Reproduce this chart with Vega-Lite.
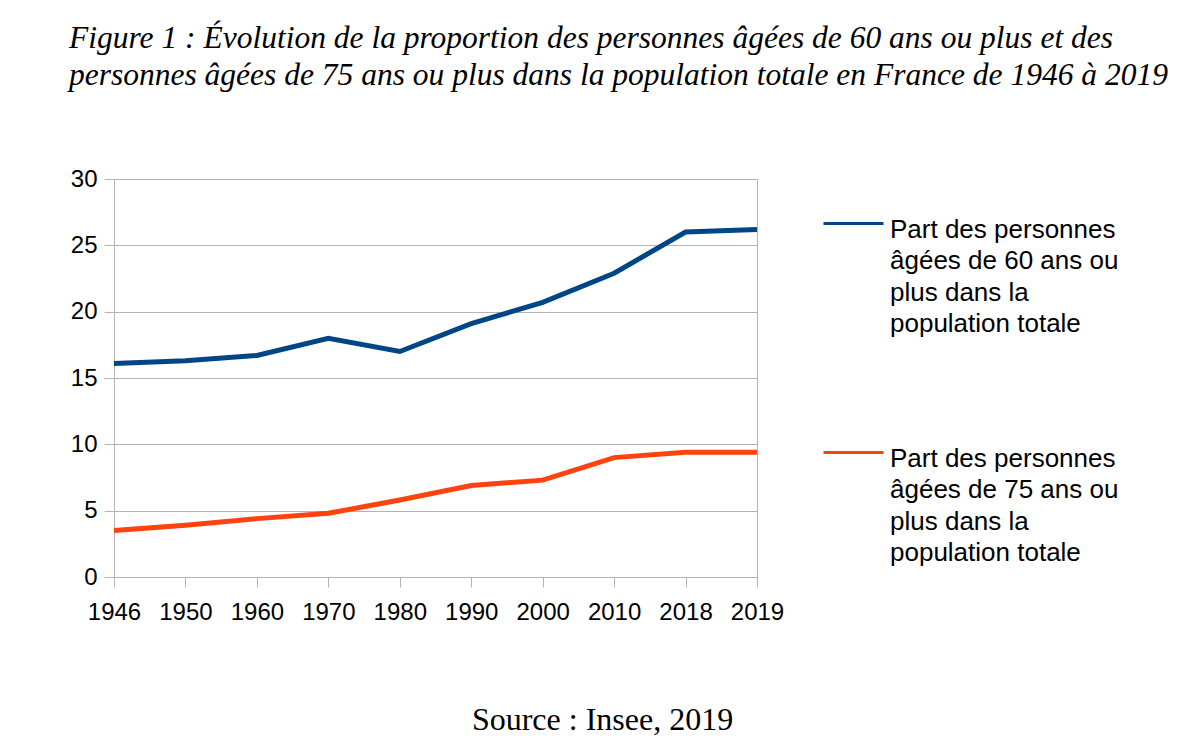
{
  "$schema": "https://vega.github.io/schema/vega-lite/v6.json",
  "width": 643,
  "height": 398,
  "autosize": {"type": "none"},
  "padding": {"left": 114, "top": 179, "right": 426, "bottom": 159},
  "background": "white",
  "title": {
    "text": ["Figure 1 : Évolution de la proportion des personnes âgées de 60 ans ou plus et des", "personnes âgées de 75 ans ou plus dans la population totale en France de 1946 à 2019"],
    "anchor": "start",
    "frame": "group",
    "dx": -45,
    "offset": 76,
    "font": "Liberation Serif",
    "fontStyle": "italic",
    "fontWeight": "normal",
    "fontSize": 31.5,
    "lineHeight": 37,
    "color": "black"
  },
  "data": {
    "values": [
      {"Année": "1946", "Série": "60", "Part": 16.1},
      {"Année": "1950", "Série": "60", "Part": 16.3},
      {"Année": "1960", "Série": "60", "Part": 16.7},
      {"Année": "1970", "Série": "60", "Part": 18.0},
      {"Année": "1980", "Série": "60", "Part": 17.0},
      {"Année": "1990", "Série": "60", "Part": 19.1},
      {"Année": "2000", "Série": "60", "Part": 20.7},
      {"Année": "2010", "Série": "60", "Part": 22.9},
      {"Année": "2018", "Série": "60", "Part": 26.0},
      {"Année": "2019", "Série": "60", "Part": 26.2},
      {"Année": "1946", "Série": "75", "Part": 3.5},
      {"Année": "1950", "Série": "75", "Part": 3.9},
      {"Année": "1960", "Série": "75", "Part": 4.4},
      {"Année": "1970", "Série": "75", "Part": 4.8},
      {"Année": "1980", "Série": "75", "Part": 5.8},
      {"Année": "1990", "Série": "75", "Part": 6.9},
      {"Année": "2000", "Série": "75", "Part": 7.3},
      {"Année": "2010", "Série": "75", "Part": 9.0},
      {"Année": "2018", "Série": "75", "Part": 9.4},
      {"Année": "2019", "Série": "75", "Part": 9.4}
    ]
  },
  "mark": {"type": "line", "strokeWidth": 5, "strokeCap": "butt", "strokeJoin": "miter"},
  "encoding": {
    "x": {
      "field": "Année",
      "type": "ordinal",
      "scale": {"type": "point", "padding": 0},
      "axis": {
        "labelAngle": 0,
        "labelFont": "Liberation Sans",
        "labelFontSize": 24,
        "labelColor": "black",
        "labelPadding": 13,
        "tickSize": 10,
        "tickColor": "#b3b3b3",
        "domainColor": "#b3b3b3",
        "grid": false,
        "title": "Source : Insee, 2019",
        "titleFont": "Liberation Serif",
        "titleFontSize": 32,
        "titleFontWeight": "normal",
        "titleColor": "black",
        "titleX": 488,
        "titleY": 152,
        "titleAlign": "center",
        "titleBaseline": "alphabetic"
      }
    },
    "y": {
      "field": "Part",
      "type": "quantitative",
      "scale": {"domain": [0, 30], "nice": false, "zero": true},
      "axis": {
        "values": [0, 5, 10, 15, 20, 25, 30],
        "labelFont": "Liberation Sans",
        "labelFontSize": 24,
        "labelColor": "black",
        "labelPadding": 7,
        "tickSize": 10,
        "tickColor": "#b3b3b3",
        "domainColor": "#b3b3b3",
        "grid": true,
        "gridColor": "#b3b3b3",
        "gridOpacity": 1,
        "title": null
      }
    },
    "color": {
      "field": "Série",
      "type": "nominal",
      "scale": {"domain": ["60", "75"], "range": ["#004586", "#ff420e"]},
      "legend": {
        "title": null,
        "orient": "none",
        "legendX": 708,
        "legendY": 13,
        "padding": 0,
        "symbolType": "stroke",
        "symbolSize": 3600,
        "symbolStrokeWidth": 3,
        "labelOffset": 5,
        "labelFont": "Liberation Sans",
        "labelFontSize": 26,
        "labelColor": "black",
        "labelBaseline": "top",
        "labelLimit": 400,
        "rowPadding": 84,
        "labelExpr": "datum.value == '60' ? ['Part des personnes', 'âgées de 60 ans ou', 'plus dans la', 'population totale'] : ['Part des personnes', 'âgées de 75 ans ou', 'plus dans la', 'population totale']",
        "encode": {"labels": {"update": {"dy": {"value": -7}}}}
      }
    }
  },
  "config": {
    "view": {"stroke": "#b3b3b3"},
    "style": {"guide-label": {"lineHeight": 31.5}}
  }
}
